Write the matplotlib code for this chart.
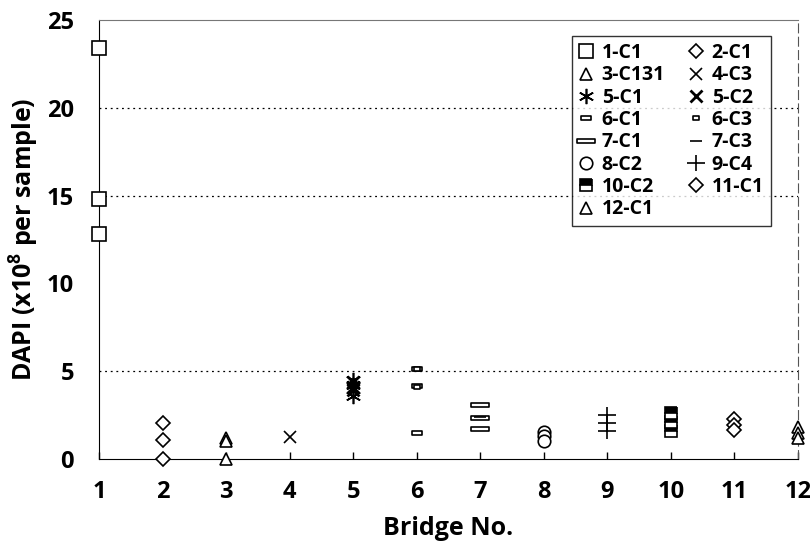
import matplotlib
matplotlib.use("Agg")
import matplotlib.pyplot as plt
from matplotlib.path import Path

plt.rcParams['font.family'] = ['Open Sans', 'DejaVu Sans']
plt.rcParams['font.weight'] = 'bold'
plt.rcParams['mathtext.fontset'] = 'custom'
plt.rcParams['mathtext.rm'] = 'Open Sans:bold'
plt.rcParams['mathtext.default'] = 'rm'

# DAPI counts per bridge sample (x10^8 per sample)
series = {
    '1-C1':   (1,  [23.4, 14.8, 12.8]),
    '2-C1':   (2,  [2.05, 1.1, 0.0]),
    '3-C131': (3,  [1.2, 1.0, 0.0]),
    '4-C3':   (4,  [1.27]),
    '5-C1':   (5,  [4.5, 4.2, 3.6]),
    '5-C2':   (5,  [4.4, 4.1, 3.95]),
    '6-C1':   (6,  [5.15, 4.15, 1.5]),
    '6-C3':   (6,  [5.1, 4.1]),
    '7-C1':   (7,  [3.1, 2.35, 1.7]),
    '7-C3':   (7,  [2.4]),
    '8-C2':   (8,  [1.55, 1.3, 1.05]),
    '9-C4':   (9,  [2.5, 2.05, 1.6]),
    '10-C2':  (10, [2.6, 2.1, 1.6]),
    '11-C1':  (11, [2.3, 1.95, 1.65]),
    '12-C1':  (12, [1.8, 1.5, 1.2]),
}

def rect(w, h):
    return Path([(-w, -h), (w, -h), (w, h), (-w, h), (-w, -h)],
                [Path.MOVETO, Path.LINETO, Path.LINETO, Path.LINETO, Path.CLOSEPOLY])

wide_plus = Path([(-1, 0), (1, 0), (0, -0.9), (0, 0.9)],
                 [Path.MOVETO, Path.LINETO, Path.MOVETO, Path.LINETO])

styles = {
    '1-C1':   dict(marker='s', ms=9.5),
    '2-C1':   dict(marker='D', ms=7),
    '3-C131': dict(marker='^', ms=9),
    '4-C3':   dict(marker='x', ms=9),
    '5-C1':   dict(marker=(6, 2, 0), ms=11),
    '5-C2':   dict(marker='x', ms=8, mew=2),
    '6-C1':   dict(marker=rect(1, 0.5), ms=7),
    '6-C3':   dict(marker=rect(1, 0.6), ms=5),
    '7-C1':   dict(marker=rect(1, 0.2), ms=13),
    '7-C3':   dict(marker='_', ms=9),
    '8-C2':   dict(marker='o', ms=9),
    '9-C4':   dict(marker=wide_plus, ms=13),
    '10-C2':  dict(marker='s', ms=9, fillstyle='top', markerfacecoloralt='white'),
    '11-C1':  dict(marker='D', ms=7),
    '12-C1':  dict(marker='^', ms=9),
}

fig = plt.figure(figsize=(8.1, 5.52), dpi=100)
ax = fig.add_axes([0.1222, 0.1685, 0.8628, 0.7953])

handles = []
for name, (bridge, vals) in series.items():
    st = dict(styles[name])
    face = 'black' if st.get('fillstyle') == 'top' else 'white'
    h, = ax.plot([bridge] * len(vals), vals, linestyle='none', label=name,
                 markeredgecolor='black', markerfacecolor=face,
                 markeredgewidth=st.pop('mew', 1.2), markersize=st.pop('ms'), **st,
                 clip_on=False, zorder=3)
    handles.append(h)

for y in [5, 15, 20]:
    ax.axhline(y, color='black', linestyle=(0, (1.5, 3)), linewidth=0.9, zorder=1)

ax.set_xlim(1, 12)
ax.set_ylim(0, 25)
ax.set_xticks(range(1, 13))
ax.set_yticks(range(0, 26, 5))
ax.tick_params(axis='x', direction='in', length=5, width=1, labelsize=17, pad=15)
ax.tick_params(axis='y', length=0, labelsize=17, pad=18)
for lbl in ax.get_xticklabels() + ax.get_yticklabels():
    lbl.set_fontweight('bold')

ax.spines['left'].set_color('black')
ax.spines['bottom'].set_color('black')
ax.spines['top'].set_color('#777777')
ax.spines['right'].set_color('#555555')
ax.spines['right'].set_linestyle((0, (8, 4)))

ax.set_xlabel('Bridge No.', fontsize=18, fontweight='bold', labelpad=9)
ax.set_ylabel('DAPI (x10$^{8}$ per sample)', fontsize=18, fontweight='bold', labelpad=4)

# legend fills row by row: left column takes the even entries
order = handles[0::2] + handles[1::2]
leg = ax.legend(handles=order, ncol=2, loc='upper right', bbox_to_anchor=(0.975, 0.985),
                frameon=True, fancybox=False, edgecolor='black',
                handlelength=0.8, handletextpad=0.4, columnspacing=1.2,
                labelspacing=0.12, borderpad=0.35, prop={'weight': 'bold', 'size': 14})
leg.get_frame().set_linewidth(1.0)

fig.savefig('out.png', dpi=100)
